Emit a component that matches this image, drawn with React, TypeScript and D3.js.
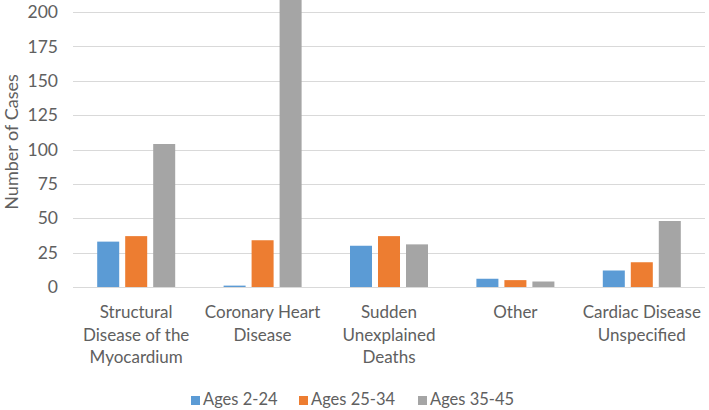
import { useEffect, useRef } from 'react';
import * as d3 from 'd3';

// dados do grafico
const categories = [
  ['Structural', 'Disease of the', 'Myocardium'],
  ['Coronary Heart', 'Disease'],
  ['Sudden', 'Unexplained', 'Deaths'],
  ['Other'],
  ['Cardiac Disease', 'Unspecified'],
];
const seriesNames = ['Ages 2-24', 'Ages 25-34', 'Ages 35-45'];
const ages2to24 = [33, 1, 30, 6, 12];
const ages25to34 = [37, 34, 37, 5, 18];
const ages35to45 = [104, 212, 31, 4, 48];
const yTicks = [0, 25, 50, 75, 100, 125, 150, 175, 200];
const colors = ['#5B9BD5', '#ED7D31', '#A5A5A5'];

const W = 709;
const H = 410;
const FONT = 'Lato, "Open Sans", sans-serif';

const App = () => {
  const svgRef = useRef<SVGSVGElement>(null);

  useEffect(() => {
    const svg = d3.select(svgRef.current);
    svg.selectAll('*').remove();

    const series = [ages2to24, ages25to34, ages35to45];
    const catIdx = categories.map((_, i) => i);

    // escalas
    const x0 = d3.scaleBand<number>().domain(catIdx).range([73, 705]).padding(0);
    const groupW = 78;
    const x1 = d3.scaleBand<number>().domain([0, 1, 2]).range([0, groupW]).paddingInner(0.214).paddingOuter(0);
    const y = d3.scaleLinear().domain([0, 200]).range([287, 12]);

    // grade
    svg.append('g')
      .selectAll('line')
      .data(yTicks)
      .join('line')
      .attr('x1', 73)
      .attr('x2', 705)
      .attr('y1', (d) => Math.round(y(d)) + 0.5)
      .attr('y2', (d) => Math.round(y(d)) + 0.5)
      .attr('stroke', '#D9D9D9')
      .attr('stroke-width', 1);

    // rotulos do eixo Y
    svg.append('g')
      .selectAll('text')
      .data(yTicks)
      .join('text')
      .attr('x', 58)
      .attr('y', (d) => y(d))
      .attr('dy', '0.35em')
      .attr('text-anchor', 'end')
      .attr('fill', '#606060')
      .style('font-family', FONT)
      .style('font-size', '17.5px')
      .text((d) => d);

    // barras
    const groups = svg.append('g')
      .selectAll('g')
      .data(catIdx)
      .join('g')
      .attr('transform', (i) => `translate(${x0(i)! + (x0.bandwidth() - groupW) / 2},0)`);

    groups.selectAll('rect')
      .data((i) => series.map((s, k) => ({ k, v: s[i] })))
      .join('rect')
      .attr('x', (d) => x1(d.k)!)
      .attr('width', x1.bandwidth())
      .attr('y', (d) => y(d.v))
      .attr('height', (d) => y(0) - y(d.v))
      .attr('fill', (d) => colors[d.k]);

    // rotulos das categorias
    svg.append('g')
      .selectAll('text')
      .data(catIdx)
      .join('text')
      .attr('x', (i) => x0(i)! + x0.bandwidth() / 2)
      .attr('y', 318)
      .attr('text-anchor', 'middle')
      .attr('fill', '#606060')
      .style('font-family', FONT)
      .style('font-size', '17px')
      .each(function (i) {
        const t = d3.select(this);
        categories[i].forEach((line, j) => {
          t.append('tspan')
            .attr('x', x0(i)! + x0.bandwidth() / 2)
            .attr('dy', j === 0 ? 0 : 22.5)
            .text(line);
        });
      });

    // titulo do eixo Y
    svg.append('text')
      .attr('transform', 'translate(18,142) rotate(-90)')
      .attr('text-anchor', 'middle')
      .attr('fill', '#606060')
      .style('font-family', FONT)
      .style('font-size', '18px')
      .text('Number of Cases');

    // legenda
    const legX = [191, 299, 418];
    const leg = svg.append('g')
      .selectAll('g')
      .data(seriesNames)
      .join('g')
      .attr('transform', (_, i) => `translate(${legX[i]},396)`);
    leg.append('rect')
      .attr('width', 9)
      .attr('height', 9)
      .attr('fill', (_, i) => colors[i]);
    leg.append('text')
      .attr('x', 12)
      .attr('y', 8.5)
      .attr('fill', '#606060')
      .style('font-family', FONT)
      .style('font-size', '16.5px')
      .text((d) => d);
  }, []);

  return (
    <div style={{ position: 'fixed', top: 0, left: 0, width: W, height: H, background: '#fff' }}>
      <svg ref={svgRef} width={W} height={H} style={{ display: 'block' }}></svg>
    </div>
  );
};

export default App;
